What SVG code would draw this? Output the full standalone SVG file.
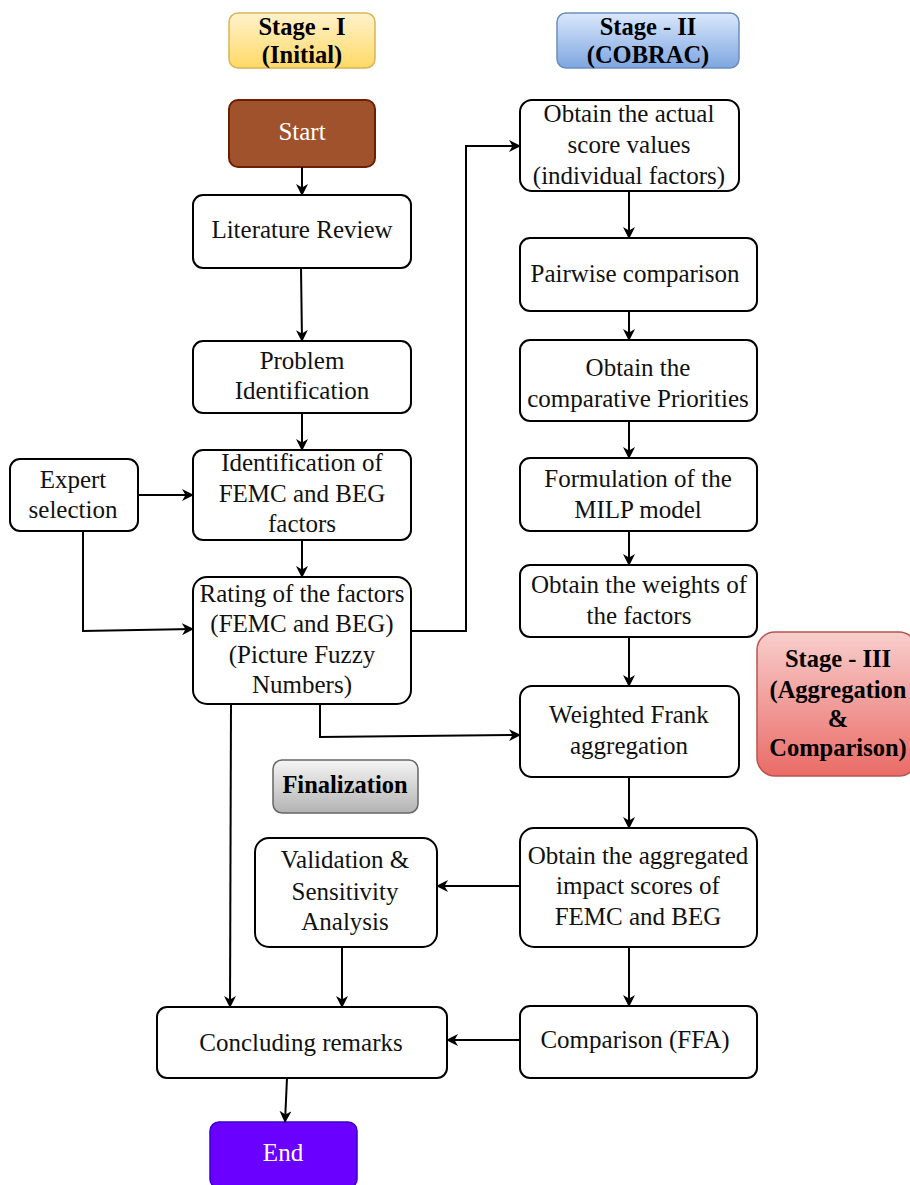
<svg xmlns="http://www.w3.org/2000/svg" width="910" height="1185" viewBox="0 0 910 1185">
<defs>
<linearGradient id="gY" x1="0" y1="0" x2="0" y2="1"><stop offset="0" stop-color="#fff2cc"/><stop offset="1" stop-color="#ffd966"/></linearGradient>
<linearGradient id="gB" x1="0" y1="0" x2="0" y2="1"><stop offset="0" stop-color="#dae8fc"/><stop offset="1" stop-color="#7ea6e0"/></linearGradient>
<linearGradient id="gR" x1="0" y1="0" x2="0" y2="1"><stop offset="0" stop-color="#f8cecc"/><stop offset="1" stop-color="#ea6b66"/></linearGradient>
<linearGradient id="gG" x1="0" y1="0" x2="0" y2="1"><stop offset="0" stop-color="#f5f5f5"/><stop offset="1" stop-color="#b3b3b3"/></linearGradient>
<marker id="arr" viewBox="0 0 12 12" refX="11" refY="6" markerWidth="12" markerHeight="12" markerUnits="userSpaceOnUse" orient="auto">
<path d="M0,0 L12,6 L0,12 L3.5,6 Z" fill="#000"/>
</marker>
</defs>
<style>
.box{fill:#fff;stroke:#000;stroke-width:2}
.t{font-family:"Liberation Serif","Times New Roman",serif;font-size:25px;fill:#111;text-anchor:middle}
.b{font-weight:bold;fill:#000;font-size:24.5px}
.w{fill:#fff}
.c{fill:none;stroke:#000;stroke-width:2;marker-end:url(#arr)}
</style>

<g id="stage1"><rect x="229" y="13" width="146" height="55" rx="9" fill="url(#gY)" stroke="#d6b656" stroke-width="1.5"/><text class="t b" x="302" y="35">Stage - I</text><text class="t b" x="302" y="63">(Initial)</text></g>
<g id="stage2"><rect x="557" y="13" width="182" height="55" rx="9" fill="url(#gB)" stroke="#6c8ebf" stroke-width="1.5"/><text class="t b" x="648" y="35">Stage - II</text><text class="t b" x="648" y="63">(COBRAC)</text></g>
<g id="stage3"><rect x="757" y="632" width="160" height="144" rx="18" fill="url(#gR)" stroke="#b85450" stroke-width="1.5"/><text class="t b" x="838" y="667">Stage - III</text><text class="t b" x="838" y="698">(Aggregation</text><text class="t b" x="838" y="727">&amp;</text><text class="t b" x="838" y="756">Comparison)</text></g>
<g id="final"><rect x="273" y="760" width="145" height="53" rx="9" fill="url(#gG)" stroke="#666" stroke-width="1.5"/><text class="t b" x="345" y="793">Finalization</text></g>

<g id="start"><rect x="229" y="100" width="146" height="67" rx="9" fill="#a0522d" stroke="#6d1f00" stroke-width="2"/><text class="t w" x="302" y="140">Start</text></g>
<g id="lit"><rect class="box" x="193" y="195" width="218" height="73" rx="10"/><text class="t" x="302" y="238">Literature Review</text></g>
<g id="prob"><rect class="box" x="193" y="341" width="218" height="72" rx="10"/><text class="t" x="302" y="369">Problem</text><text class="t" x="302" y="399">Identification</text></g>
<g id="ident"><rect class="box" x="193" y="450" width="218" height="90" rx="10"/><text class="t" x="302" y="471">Identification of</text><text class="t" x="302" y="502">FEMC and BEG</text><text class="t" x="302" y="532">factors</text></g>
<g id="expert"><rect class="box" x="10" y="459" width="128" height="72" rx="10"/><text class="t" x="73" y="488">Expert</text><text class="t" x="73" y="518">selection</text></g>
<g id="rating"><rect class="box" x="193" y="577" width="218" height="127" rx="14"/><text class="t" x="302" y="602">Rating of the factors</text><text class="t" x="302" y="632">(FEMC and BEG)</text><text class="t" x="302" y="663">(Picture Fuzzy</text><text class="t" x="302" y="693">Numbers)</text></g>

<g id="actual"><rect class="box" x="520" y="100" width="219" height="91" rx="12"/><text class="t" x="629" y="122">Obtain the actual</text><text class="t" x="629" y="153">score values</text><text class="t" x="629" y="184">(individual factors)</text></g>
<g id="pair"><rect class="box" x="520" y="238" width="237" height="73" rx="10"/><text class="t" x="635" y="282">Pairwise comparison</text></g>
<g id="comp"><rect class="box" x="520" y="340" width="237" height="81" rx="10"/><text class="t" x="638" y="376">Obtain the</text><text class="t" x="638" y="407">comparative Priorities</text></g>
<g id="milp"><rect class="box" x="520" y="458" width="237" height="73" rx="10"/><text class="t" x="638" y="487">Formulation of the</text><text class="t" x="638" y="518">MILP model</text></g>
<g id="weights"><rect class="box" x="520" y="565" width="237" height="72" rx="10"/><text class="t" x="639" y="593">Obtain the weights of</text><text class="t" x="639" y="624">the factors</text></g>
<g id="frank"><rect class="box" x="520" y="686" width="219" height="91" rx="12"/><text class="t" x="629" y="723">Weighted Frank</text><text class="t" x="629" y="754">aggregation</text></g>
<g id="aggr"><rect class="box" x="520" y="828" width="237" height="119" rx="14"/><text class="t" x="638" y="864">Obtain the aggregated</text><text class="t" x="638" y="894">impact scores of</text><text class="t" x="638" y="925">FEMC and BEG</text></g>
<g id="valid"><rect class="box" x="255" y="838" width="182" height="109" rx="14"/><text class="t" x="345" y="868">Validation &amp;</text><text class="t" x="345" y="900">Sensitivity</text><text class="t" x="345" y="930">Analysis</text></g>
<g id="ffa"><rect class="box" x="520" y="1006" width="237" height="72" rx="10"/><text class="t" x="635" y="1048">Comparison (FFA)</text></g>
<g id="concl"><rect class="box" x="157" y="1007" width="290" height="71" rx="10"/><text class="t" x="301" y="1051">Concluding remarks</text></g>
<g id="end"><rect x="210" y="1122" width="147" height="66" rx="9" fill="#6a00ff" stroke="#3700cc" stroke-width="1.5"/><text class="t w" x="283" y="1161">End</text></g>

<g id="connectors">
<path class="c" d="M302,167 L302,195"/>
<path class="c" d="M301,268 L302,341"/>
<path class="c" d="M302,413 L302,450"/>
<path class="c" d="M302,540 L302,577"/>
<path class="c" d="M138,495 L193,495"/>
<path class="c" d="M83,531 L83,631 L193,629"/>
<path class="c" d="M411,631 L466,631 L466,146 L520,146"/>
<path class="c" d="M320,704 L320,737 L520,735"/>
<path class="c" d="M231,704 L230,1007"/>
<path class="c" d="M629,191 L629,238"/>
<path class="c" d="M629,311 L629,340"/>
<path class="c" d="M629,421 L629,458"/>
<path class="c" d="M629,531 L629,565"/>
<path class="c" d="M629,637 L629,686"/>
<path class="c" d="M629,777 L629,828"/>
<path class="c" d="M520,886 L437,886"/>
<path class="c" d="M629,947 L629,1006"/>
<path class="c" d="M342,947 L342,1007"/>
<path class="c" d="M520,1040 L447,1040"/>
<path class="c" d="M287,1078 L285,1122"/>
</g>
</svg>
